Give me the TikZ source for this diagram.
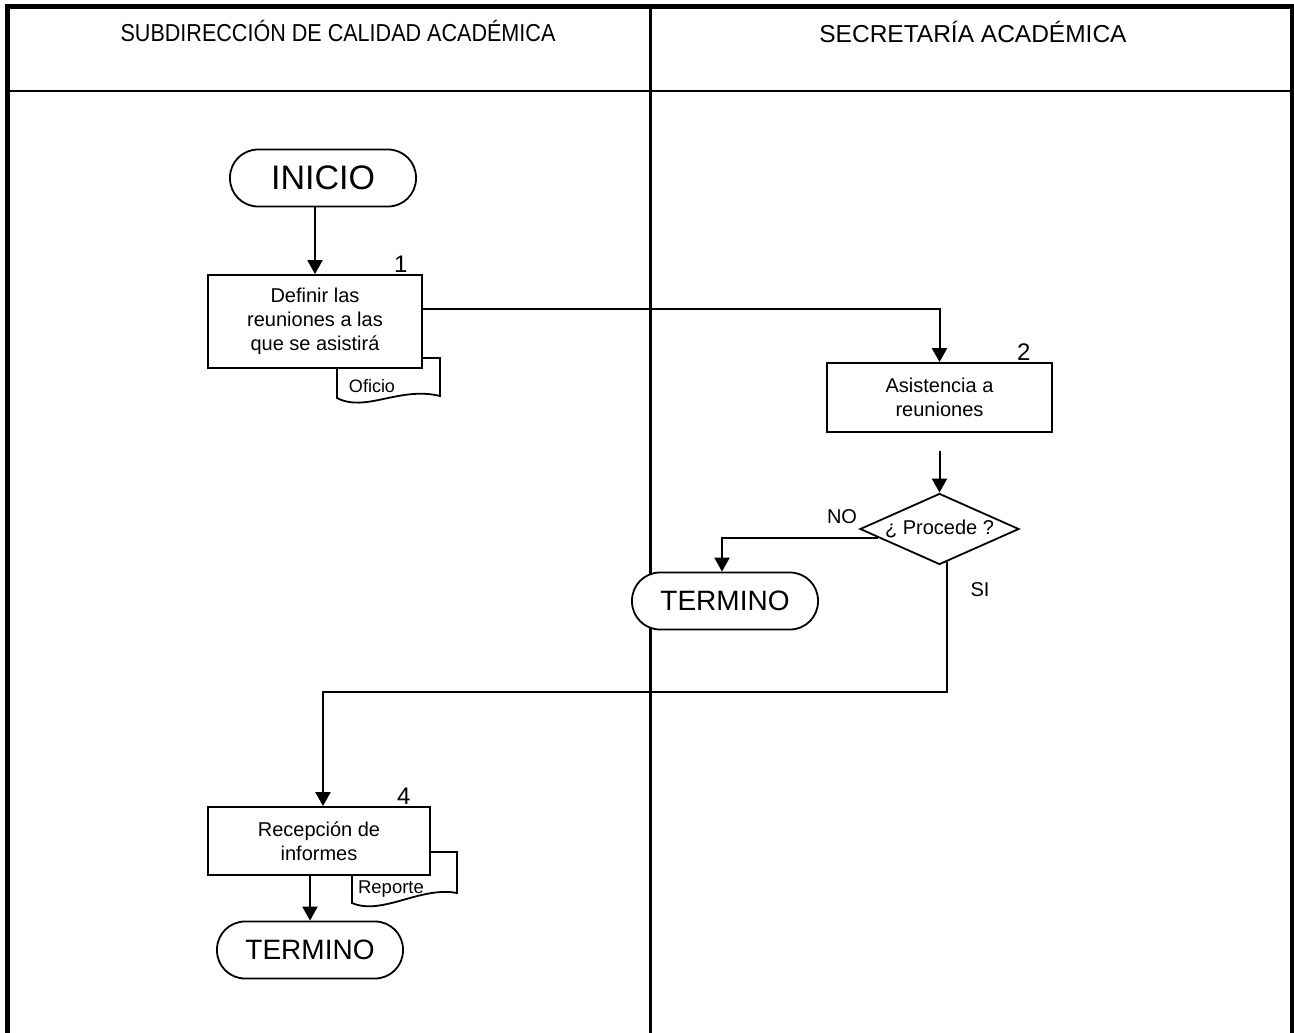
\documentclass[tikz,border=0pt]{standalone}
\usepackage{fontspec}
\setmainfont{Liberation Sans}
\usetikzlibrary{arrows.meta,shapes.geometric}

\begin{document}
\begin{tikzpicture}[x=1pt,y=-1pt,>={Triangle[length=14pt,width=15pt]},
  terminal/.style={draw,line width=1.8pt,fill=white,rounded corners=28pt,minimum width=186pt,minimum height=57pt},
  actividad/.style={draw,line width=1.8pt,fill=white,align=center,font=\fontsize{20}{24}\selectfont},
  decision/.style={draw,diamond,aspect=2.24,line width=1.8pt,fill=white,inner sep=0pt,minimum width=159pt,minimum height=71pt,font=\fontsize{20}{24}\selectfont},
  numero/.style={anchor=south,inner sep=1pt,font=\fontsize{24}{26}\selectfont},
  etiqueta/.style={font=\fontsize{20}{24}\selectfont},
  flujo/.style={line width=2pt}]
\useasboundingbox (0,0) rectangle (1294,1033);

% carriles
\draw[line width=4.5pt] (7.5,1033) -- (7.5,6.5) -- (1292,6.5) -- (1292,1033);
\draw[line width=2.5pt] (7.5,91) -- (1292,91);
\draw[line width=3pt] (650,6.5) -- (650,1033);
\node[font=\fontsize{24.5}{28}\selectfont] (area1) at (338,31) {\scalebox{0.88}[1]{SUBDIRECCIÓN DE CALIDAD ACADÉMICA}};
\node[font=\fontsize{24.5}{28}\selectfont] (area2) at (973,32) {SECRETARÍA ACADÉMICA};

% documentos
\draw[line width=1.8pt,fill=white] (337,358) -- (337,398) .. controls (365,413) and (400,386) .. (440,396) -- (440,358) -- cycle;
\draw[line width=1.8pt,fill=white] (352,852) -- (352,903) .. controls (382,916) and (420,886) .. (457,893) -- (457,852) -- cycle;
\node[font=\fontsize{18}{20}\selectfont] (oficio) at (372,386) {Oficio};
\node[font=\fontsize{18.5}{20}\selectfont] (reporte) at (391,889) {Reporte};

% pasos
\node[terminal,font=\fontsize{34}{36}\selectfont] (inicio) at (323,178) {INICIO};
\node[actividad,minimum width=214pt,minimum height=93pt] (def) at (315,321.5) {Definir las\\reuniones a las\\que se asistirá};
\node[numero] (n1) at ([xshift=-22pt]def.north east) {1};
\node[actividad,minimum width=225pt,minimum height=69pt] (asis) at (939.5,397.5) {Asistencia a\\reuniones};
\node[numero] (n2) at ([xshift=-29pt]asis.north east) {2};
\node[decision] (proc) at (939.5,529) {¿ Procede ?};
\node[terminal,font=\fontsize{28}{30}\selectfont] (term1) at (725,601) {TERMINO};
\node[actividad,minimum width=222pt,minimum height=68pt] (rec) at (319,841) {Recepción de\\informes};
\node[numero] (n4) at ([xshift=-27pt]rec.north east) {4};
\node[terminal,font=\fontsize{28}{30}\selectfont] (term2) at (310,950) {TERMINO};
\node[etiqueta] (no) at (842,517) {NO};
\node[etiqueta] (si) at (980,590) {SI};

% flechas
\draw[flujo,->] (def.north |- inicio.south) -- (def.north);
\draw[flujo,->] ([yshift=13pt]def.east) -| (asis.north);
\draw[flujo,->] ([yshift=-18pt]asis.south) -- (proc.north);
\draw[flujo,->] (proc.188) -| ([xshift=-3pt]term1.north);
\draw[flujo,->] (proc.-78) -- ++(0,130) -| ([xshift=4pt]rec.north);
\draw[flujo,->] (term2.north |- rec.south) -- (term2.north);
\end{tikzpicture}
\end{document}
